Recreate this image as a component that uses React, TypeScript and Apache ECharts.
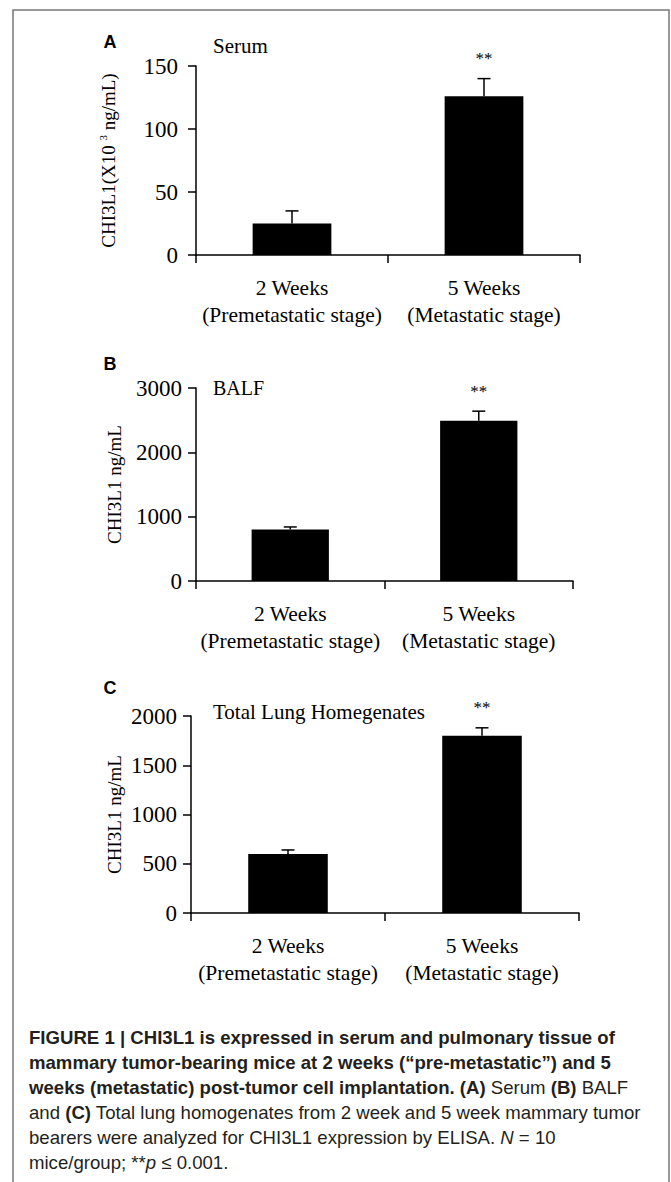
import React, { useEffect, useRef } from "react";
import * as echarts from "echarts";

const categories = ["2 Weeks\n(Premetastatic stage)", "5 Weeks\n(Metastatic stage)"];
const significance = ["", "**"];

const serumMeans = [25, 126];
const serumErrors = [10, 14];
const balfMeans = [800, 2490];
const balfErrors = [40, 150];
const lungMeans = [600, 1800];
const lungErrors = [40, 80];

const serumTicks = { max: 150, interval: 50 };
const balfTicks = { max: 3000, interval: 1000 };
const lungTicks = { max: 2000, interval: 500 };

const panelLetters = ["A", "B", "C"];
const panelTitles = ["Serum", "BALF", "Total Lung Homegenates"];
const yTitles = ["CHI3L1(X10 {sup|3} ng/mL)", "CHI3L1 ng/mL", "CHI3L1 ng/mL"];

const captionLines = [
  "{b|FIGURE 1 | CHI3L1 is expressed in serum and pulmonary tissue of}",
  "{b|mammary tumor-bearing mice at 2 weeks (\u201Cpre-metastatic\u201D) and 5}",
  "{b|weeks (metastatic) post-tumor cell implantation. (A)}{r| Serum }{b|(B)}{r| BALF}",
  "{r|and }{b|(C)}{r| Total lung homogenates from 2 week and 5 week mammary tumor}",
  "{r|bearers were analyzed for CHI3L1 expression by ELISA. }{i|N}{r| = 10}",
  "{r|mice/group; **}{i|p}{r| \u2264 0.001.}",
];

const SERIF = '"Liberation Serif", "Times New Roman", serif';
const SANS = '"Liberation Sans", Arial, sans-serif';

const layout = [
  { grid: { left: 196, top: 66, width: 384, height: 189 }, nameGap: 76, labelMargin: 18, letter: [110, 42], title: [213, 46], titleSize: 21 },
  { grid: { left: 196, top: 388, width: 377, height: 193 }, nameGap: 72, labelMargin: 14, letter: [110, 364], title: [213, 388], titleSize: 20 },
  { grid: { left: 191, top: 716, width: 388, height: 197 }, nameGap: 67, labelMargin: 14, letter: [110, 688], title: [213, 712], titleSize: 21 },
];

const panelData = [
  { means: serumMeans, errors: serumErrors, ticks: serumTicks },
  { means: balfMeans, errors: balfErrors, ticks: balfTicks },
  { means: lungMeans, errors: lungErrors, ticks: lungTicks },
];

function errorRenderItem(params: any, api: any) {
  const c = api.value(0);
  const m = api.value(1);
  const e = api.value(2);
  const base = api.coord([c, m]);
  const top = api.coord([c, m + e]);
  const stroke = { stroke: "#000", lineWidth: 1.5 };
  const children: any[] = [
    { type: "line", shape: { x1: base[0], y1: base[1], x2: top[0], y2: top[1] }, style: stroke },
    { type: "line", shape: { x1: top[0] - 6.5, y1: top[1], x2: top[0] + 6.5, y2: top[1] }, style: stroke },
  ];
  const sig = significance[params.dataIndex];
  if (sig) {
    children.push({
      type: "text",
      x: top[0],
      y: top[1] - 20,
      style: { text: sig, fill: "#000", font: `17px ${SERIF}`, align: "center", verticalAlign: "middle" },
    });
  }
  return { type: "group", children };
}

export default function App() {
  const ref = useRef<HTMLDivElement>(null);

  useEffect(() => {
    document.body.style.margin = "0";
    const chart = echarts.init(ref.current!, null, { renderer: "svg" });
    const axisLineStyle = { color: "#000", width: 1.5 };

    const option: any = {
      animation: false,
      backgroundColor: "#fff",
      grid: layout.map((l) => ({ ...l.grid })),
      xAxis: layout.map((l, i) => ({
        gridIndex: i,
        type: "category",
        data: categories,
        axisLine: { lineStyle: axisLineStyle },
        axisTick: { show: true, length: 8, lineStyle: axisLineStyle },
        axisLabel: { color: "#000", fontFamily: SERIF, fontSize: 21.5, lineHeight: 27, margin: 19, interval: 0 },
        splitLine: { show: false },
      })),
      yAxis: layout.map((l, i) => ({
        gridIndex: i,
        type: "value",
        min: 0,
        max: panelData[i].ticks.max,
        interval: panelData[i].ticks.interval,
        axisLine: { show: true, lineStyle: axisLineStyle },
        axisTick: { show: true, length: 8, lineStyle: axisLineStyle },
        axisLabel: { color: "#000", fontFamily: SERIF, fontSize: 23, margin: l.labelMargin, formatter: (v: number) => String(v) },
        splitLine: { show: false },
        name: yTitles[i],
        nameLocation: "middle",
        nameRotate: 90,
        nameGap: l.nameGap,
        nameMoveOverlap: false,
        nameTextStyle: {
          color: "#000",
          fontFamily: SERIF,
          fontSize: 19,
          rich: {
            sup: { fontFamily: SERIF, fontSize: 11, color: "#000", verticalAlign: "bottom", padding: [0, 0, 12, 0] },
          },
        },
      })),
      series: panelData.flatMap((p, i) => [
        {
          type: "bar",
          xAxisIndex: i,
          yAxisIndex: i,
          data: p.means,
          barWidth: "41%",
          itemStyle: { color: "#000" },
        },
        {
          type: "custom",
          xAxisIndex: i,
          yAxisIndex: i,
          data: p.means.map((m, j) => [j, m, p.errors[j]]),
          renderItem: errorRenderItem,
          z: 3,
        },
      ]),
      graphic: [
        {
          type: "rect",
          shape: { x: 13, y: 10, width: 656, height: 1200 },
          style: { fill: "none", stroke: "#777", lineWidth: 1.5 },
          silent: true,
        },
        ...layout.map((l, i) => ({
          type: "text",
          x: l.letter[0],
          y: l.letter[1],
          style: { text: panelLetters[i], font: `bold 18px ${SANS}`, fill: "#000", align: "center", verticalAlign: "middle" },
        })),
        ...layout.map((l, i) => ({
          type: "text",
          x: l.title[0],
          y: l.title[1],
          style: { text: panelTitles[i], font: `${l.titleSize}px ${SERIF}`, fill: "#000", align: "left", verticalAlign: "middle" },
        })),
        {
          type: "group",
          x: 29,
          y: 1037,
          children: captionLines.map((line, k) => ({
            type: "text",
            x: 0,
            y: k * 25,
            style: {
              text: line,
              align: "left",
              verticalAlign: "middle",
              rich: {
                b: { fontFamily: SANS, fontWeight: "bold", fontSize: 18.6, fill: "#231f20" },
                r: { fontFamily: SANS, fontSize: 18.6, fill: "#231f20" },
                i: { fontFamily: SANS, fontStyle: "italic", fontSize: 18.6, fill: "#231f20" },
              },
            },
          })),
        },
      ],
    };

    chart.setOption(option);
    return () => chart.dispose();
  }, []);

  return <div ref={ref} style={{ width: 671, height: 1182 }} />;
}
